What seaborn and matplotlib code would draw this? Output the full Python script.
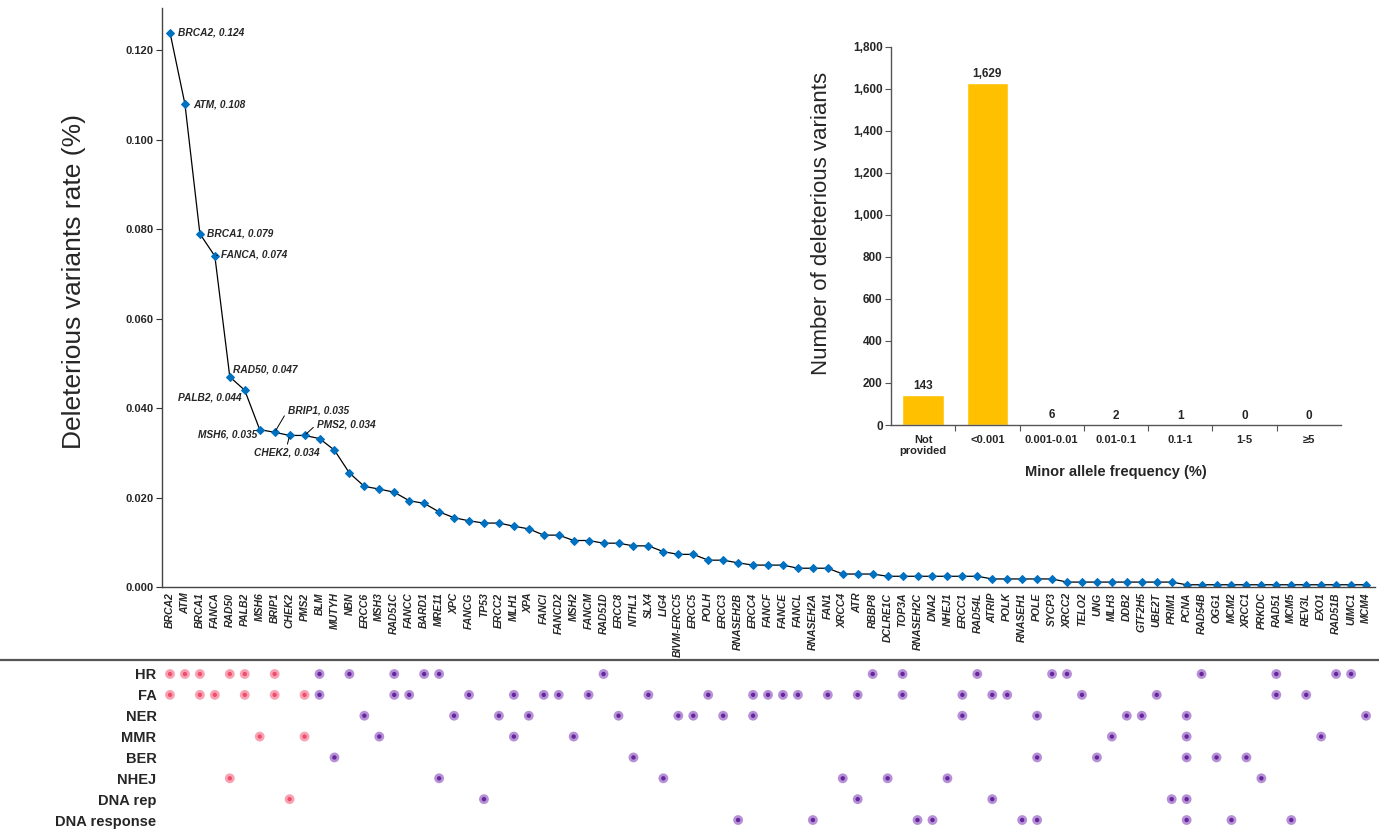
import pandas as pd
import matplotlib.pyplot as plt
from matplotlib.lines import Line2D
import seaborn as sns

# genes ordered by deleterious variant rate
genes = ['BRCA2', 'ATM', 'BRCA1', 'FANCA', 'RAD50', 'PALB2', 'MSH6', 'BRIP1', 'CHEK2', 'PMS2',
         'BLM', 'MUTYH', 'NBN', 'ERCC6', 'MSH3', 'RAD51C', 'FANCC', 'BARD1', 'MRE11', 'XPC',
         'FANCG', 'TP53', 'ERCC2', 'MLH1', 'XPA', 'FANCI', 'FANCD2', 'MSH2', 'FANCM', 'RAD51D',
         'ERCC8', 'NTHL1', 'SLX4', 'LIG4', 'BIVM-ERCC5', 'ERCC5', 'POLH', 'ERCC3', 'RNASEH2B', 'ERCC4',
         'FANCF', 'FANCE', 'FANCL', 'RNASEH2A', 'FAN1', 'XRCC4', 'ATR', 'RBBP8', 'DCLRE1C', 'TOP3A',
         'RNASEH2C', 'DNA2', 'NHEJ1', 'ERCC1', 'RAD54L', 'ATRIP', 'POLK', 'RNASEH1', 'POLE', 'SYCP3',
         'XRCC2', 'TELO2', 'UNG', 'MLH3', 'DDB2', 'GTF2H5', 'UBE2T', 'PRIM1', 'PCNA', 'RAD54B',
         'OGG1', 'MCM2', 'XRCC1', 'PRKDC', 'RAD51', 'MCM5', 'REV3L', 'EXO1', 'RAD51B', 'UIMC1', 'MCM4']

rates = [0.124, 0.108, 0.079, 0.074, 0.047, 0.044, 0.0352, 0.0346, 0.0339, 0.0339,
         0.0332, 0.0306, 0.0255, 0.0225, 0.0219, 0.0212, 0.0193, 0.0187, 0.0168, 0.0155,
         0.0148, 0.0143, 0.0143, 0.0136, 0.0130, 0.0116, 0.0116, 0.0104, 0.0104, 0.0098,
         0.0098, 0.0092, 0.0092, 0.0079, 0.0073, 0.0073, 0.0060, 0.0060, 0.0054, 0.0049,
         0.0049, 0.0049, 0.0042, 0.0042, 0.0042, 0.0029, 0.0029, 0.0029, 0.0024, 0.0024,
         0.0024, 0.0024, 0.0024, 0.0024, 0.0024, 0.0018, 0.0018, 0.0018, 0.0018, 0.0018,
         0.0011, 0.0011, 0.0011, 0.0011, 0.0011, 0.0011, 0.0011, 0.0011, 0.0005, 0.0005,
         0.0005, 0.0005, 0.0005, 0.0005, 0.0005, 0.0005, 0.0005, 0.0005, 0.0005, 0.0005, 0.0005]

labelled_genes = ['BRCA2', 'ATM', 'BRCA1', 'FANCA', 'RAD50', 'PALB2', 'MSH6', 'BRIP1', 'CHEK2', 'PMS2']

# pathway membership
pathways = ['HR', 'FA', 'NER', 'MMR', 'BER', 'NHEJ', 'DNA rep', 'DNA response']
hr = ['BRCA2', 'ATM', 'BRCA1', 'RAD50', 'PALB2', 'BRIP1', 'BLM', 'NBN', 'RAD51C', 'BARD1', 'MRE11',
      'RAD51D', 'RBBP8', 'TOP3A', 'RAD54L', 'SYCP3', 'XRCC2', 'RAD54B', 'RAD51', 'RAD51B', 'UIMC1']
fa = ['BRCA2', 'BRCA1', 'FANCA', 'PALB2', 'BRIP1', 'PMS2', 'BLM', 'RAD51C', 'FANCC', 'FANCG', 'MLH1',
      'FANCI', 'FANCD2', 'FANCM', 'SLX4', 'POLH', 'ERCC4', 'FANCF', 'FANCE', 'FANCL', 'FAN1', 'ATR',
      'TOP3A', 'ERCC1', 'ATRIP', 'POLK', 'TELO2', 'UBE2T', 'RAD51', 'REV3L']
ner = ['ERCC6', 'XPC', 'ERCC2', 'XPA', 'ERCC8', 'BIVM-ERCC5', 'ERCC5', 'ERCC3', 'ERCC4', 'ERCC1',
       'POLE', 'DDB2', 'GTF2H5', 'PCNA', 'MCM4']
mmr = ['MSH6', 'PMS2', 'MSH3', 'MLH1', 'MSH2', 'MLH3', 'PCNA', 'EXO1']
ber = ['MUTYH', 'NTHL1', 'POLE', 'UNG', 'PCNA', 'OGG1', 'XRCC1']
nhej = ['RAD50', 'MRE11', 'LIG4', 'XRCC4', 'DCLRE1C', 'NHEJ1', 'PRKDC']
dna_rep = ['CHEK2', 'TP53', 'ATR', 'ATRIP', 'PRIM1', 'PCNA']
dna_response = ['RNASEH2B', 'RNASEH2A', 'RNASEH2C', 'DNA2', 'RNASEH1', 'POLE', 'PCNA', 'MCM2', 'MCM5']
members = [hr, fa, ner, mmr, ber, nhej, dna_rep, dna_response]

# inset: minor allele frequency
maf_bins = ['Not\nprovided', '<0.001', '0.001-0.01', '0.01-0.1', '0.1-1', '1-5', '≥5']
maf_counts = [143, 1629, 6, 2, 1, 0, 0]

sns.set_style('ticks')
plt.rcParams['font.family'] = ['Liberation Sans', 'DejaVu Sans']

W, H = 1379, 830
fig = plt.figure(figsize=(W / 100, H / 100), dpi=100)

# ---- main line chart ----
ax = fig.add_axes([162 / W, 1 - 587 / H, 1213 / W, 579 / H])
df = pd.DataFrame({'gene': genes, 'pos': range(len(genes)), 'rate': rates})
sns.lineplot(data=df, x='pos', y='rate', ax=ax, color='black', lw=0.9, errorbar=None,
             marker='D', markersize=4, markerfacecolor='#0070C0', markeredgecolor='#0070C0')
ax.set_xlim(-0.535, len(genes) - 0.4)
ax.set_ylim(0, 0.1295)
ax.set_yticks([0, 0.02, 0.04, 0.06, 0.08, 0.1, 0.12])
ax.set_yticklabels([f'{t:.3f}' for t in ax.get_yticks()], fontsize=8, fontweight='bold')
ax.set_xticks(df['pos'])
ax.set_xticklabels(genes, rotation=90, fontsize=7.5, fontweight='bold', fontstyle='italic')
ax.tick_params(axis='x', length=0, pad=4)
ax.tick_params(axis='y', length=4, width=0.8, pad=2, color='#333333')
ax.set_xlabel('')
ax.set_ylabel('Deleterious variants rate (%)', fontsize=19)
ax.yaxis.set_label_coords(-0.063, 0.528)
sns.despine(ax=ax)
for s in ['left', 'bottom']:
    ax.spines[s].set_color('#444444')
    ax.spines[s].set_linewidth(1.0)

# label offsets in pixels: (dx, dy, ha, va, leader)
offsets = {'BRCA2': (8, 0, 'left', 'center', False),
           'ATM': (8, 0, 'left', 'center', False),
           'BRCA1': (7, 0, 'left', 'center', False),
           'FANCA': (6, 2, 'left', 'center', True),
           'RAD50': (3, 7, 'left', 'center', False),
           'PALB2': (-3, -7, 'right', 'center', False),
           'MSH6': (-2, -5, 'right', 'center', False),
           'BRIP1': (13, 22, 'left', 'center', True),
           'CHEK2': (-3, -12, 'center', 'top', True),
           'PMS2': (12, 11, 'left', 'center', True)}
for g in labelled_genes:
    i = genes.index(g)
    dx, dy, ha, va, leader = offsets[g]
    rel = {'left': (0, 0.5), 'right': (1, 0.5), 'center': (0.5, 1)}[ha]
    arrow = dict(arrowstyle='-', color='black', lw=0.7, shrinkA=0, shrinkB=1.5, relpos=rel) if leader else None
    ax.annotate(f'{g}, {rates[i]:.3f}', xy=(i, rates[i]), xytext=(dx, dy), textcoords='offset pixels',
                ha=ha, va=va, fontsize=7.3, fontweight='bold', fontstyle='italic', arrowprops=arrow)

# ---- pathway dot matrix ----
axd = fig.add_axes([162 / W, 0, 1213 / W, 170 / H])
rows = []
for r, (p, gl) in enumerate(zip(pathways, members)):
    for g in gl:
        rows.append({'pos': genes.index(g), 'row': r, 'top': g in labelled_genes})
dots = pd.DataFrame(rows)
for top, halo, core in [(True, '#F7A3B4', '#F04D6C'), (False, '#B690D6', '#66259B')]:
    sub = dots[dots['top'] == top]
    sns.scatterplot(data=sub, x='pos', y='row', ax=axd, s=50, color=halo, edgecolor='none', legend=False)
    sns.scatterplot(data=sub, x='pos', y='row', ax=axd, s=10, color=core, edgecolor='none', legend=False)
axd.set_xlim(ax.get_xlim())
axd.set_ylim(7.478, -0.671)
axd.set_yticks(range(len(pathways)))
axd.set_yticklabels(pathways, fontsize=10.5, fontweight='bold')
axd.tick_params(axis='y', length=0, pad=4)
axd.set_xticks([])
axd.set_xlabel('')
axd.set_ylabel('')
for s in axd.spines.values():
    s.set_visible(False)
axd.patch.set_alpha(0)

fig.add_artist(Line2D([0, 1], [1 - 660 / H] * 2, transform=fig.transFigure, color='#555555', lw=1.6))

# ---- inset bar chart ----
axin = fig.add_axes([891 / W, 1 - 425 / H, 450 / W, 378.3 / H])
sns.barplot(x=maf_bins, y=maf_counts, ax=axin, color='#FFC000', saturation=1, width=0.65)
axin.bar_label(axin.containers[0], labels=[f'{v:,}' for v in maf_counts], padding=2,
               fontsize=8.5, fontweight='bold')
axin.set_ylim(0, 1800)
axin.set_yticks(range(0, 1801, 200))
axin.set_yticklabels([f'{t:,}' for t in range(0, 1801, 200)], fontsize=8.5, fontweight='bold')
axin.set_xticks(range(len(maf_bins)))
axin.set_xticklabels(maf_bins, fontsize=8, fontweight='bold')
axin.set_xticks([i + 0.5 for i in range(len(maf_bins) - 1)], minor=True)
axin.tick_params(axis='x', which='major', length=0, pad=7)
axin.tick_params(axis='x', which='minor', length=4, width=0.8, color='#555555')
axin.tick_params(axis='y', length=4, width=0.8, pad=2, color='#555555')
axin.set_xlim(-0.5, len(maf_bins) - 0.5)
axin.set_xlabel('Minor allele frequency (%)', fontsize=10.5, fontweight='bold', labelpad=6)
axin.set_ylabel('Number of deleterious variants', fontsize=16)
axin.yaxis.set_label_coords(-0.131, 0.534)
sns.despine(ax=axin)
for s in ['left', 'bottom']:
    axin.spines[s].set_color('#555555')
    axin.spines[s].set_linewidth(1.0)

fig.savefig('out.png', dpi=100)
